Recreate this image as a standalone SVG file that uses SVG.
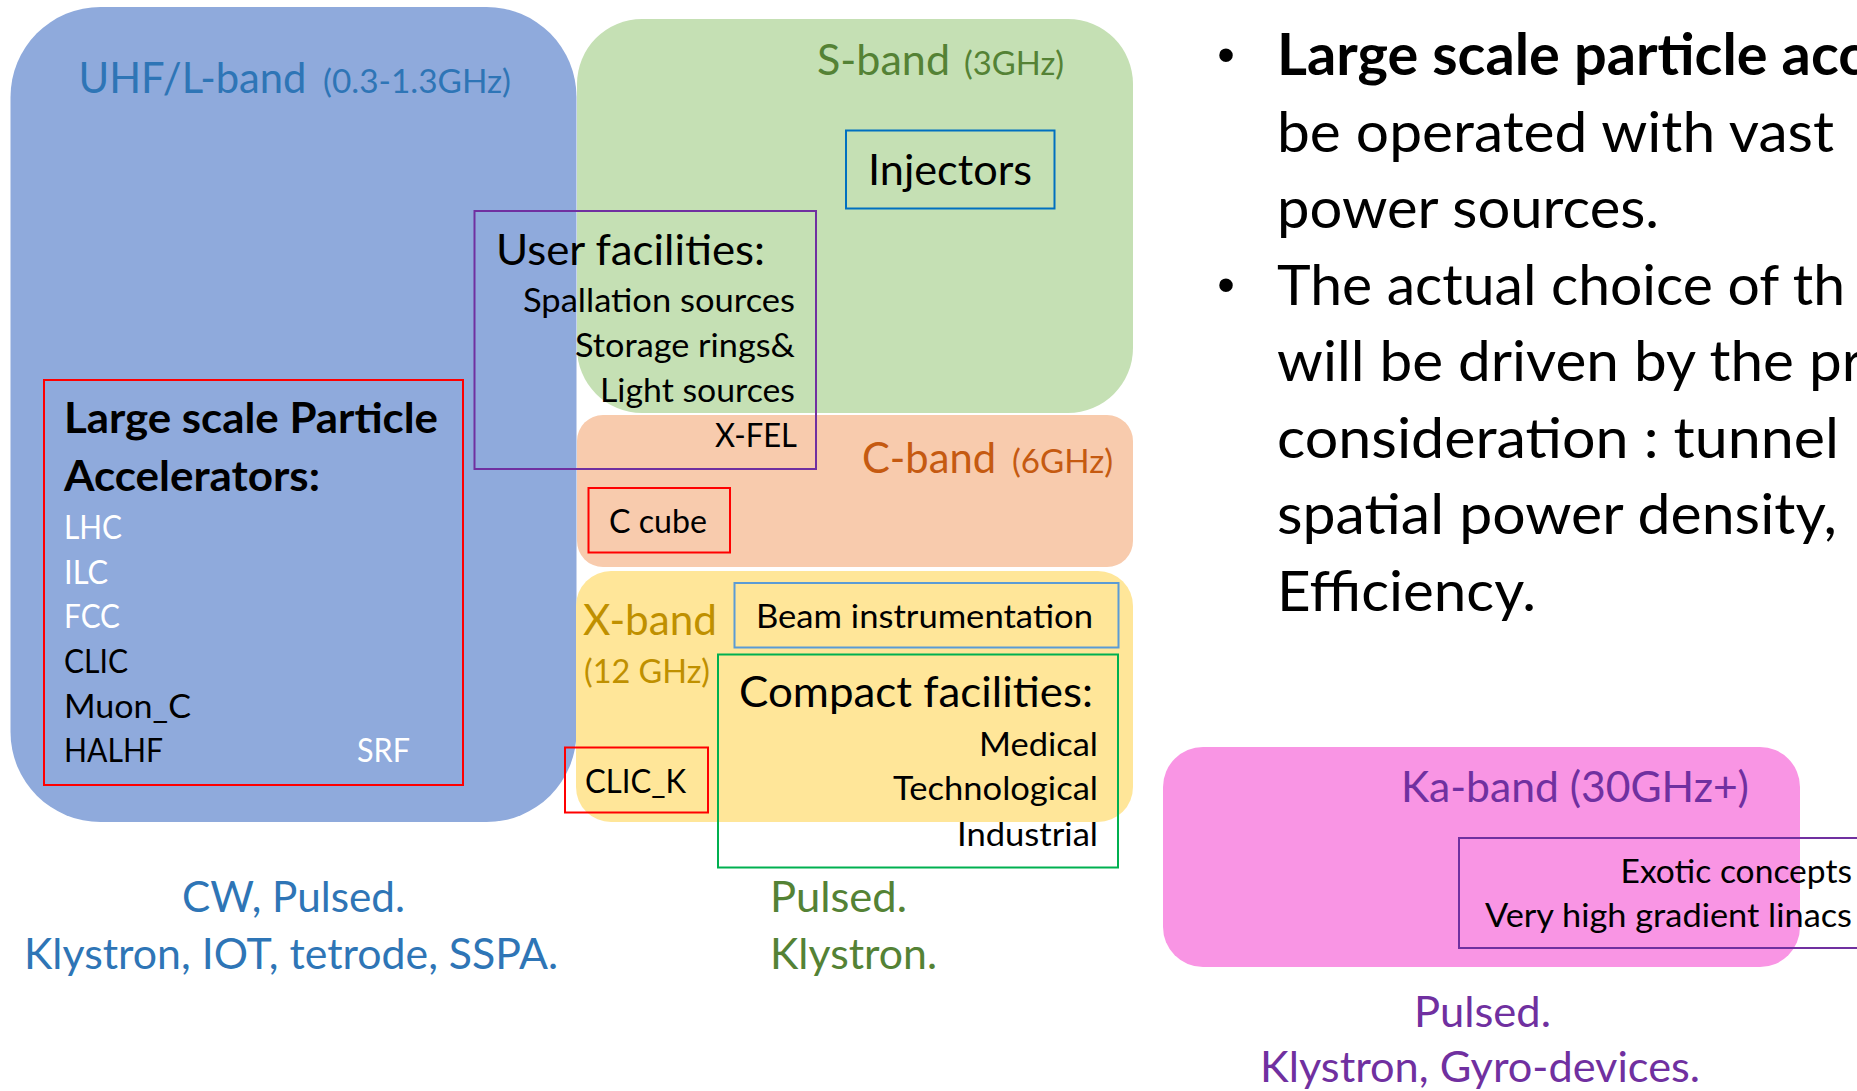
<svg xmlns="http://www.w3.org/2000/svg" width="1857" height="1091" viewBox="0 0 1857 1091">
  <style>
    text { font-family: Lato, "Open Sans", "Liberation Sans", sans-serif; }
    .big { font-size: 42.5px; }
    .small { font-size: 33.4px; }
    .bullet { font-size: 57px; }
    .bold { font-weight: bold; }
    .c-blue { fill: #2E75B6; }
    .c-green { fill: #548235; }
    .c-orange { fill: #C55A11; }
    .c-gold { fill: #BF9000; }
    .c-purple { fill: #7030A0; }
    .c-black { fill: #000000; }
    .c-white { fill: #FFFFFF; }
    .frame { fill: none; stroke-width: 2; }
  </style>

  <rect width="1857" height="1091" fill="#FFFFFF"/>

  <!-- frequency band areas -->
  <g id="band-uhf">
    <rect x="10.5" y="7" width="566" height="815" rx="90" ry="90" fill="#8FAADC"/>
    <text class="big c-blue" x="78.5" y="93" textLength="228" lengthAdjust="spacingAndGlyphs">UHF/L-band</text>
    <text class="small c-blue" x="323" y="93" textLength="188" lengthAdjust="spacingAndGlyphs">(0.3-1.3GHz)</text>
  </g>
  <g id="band-s">
    <rect x="577" y="19" width="556" height="394" rx="65" ry="65" fill="#C5E0B4"/>
    <text class="big c-green" x="817" y="75" textLength="133" lengthAdjust="spacingAndGlyphs">S-band</text>
    <text class="small c-green" x="964" y="75" textLength="100" lengthAdjust="spacingAndGlyphs">(3GHz)</text>
  </g>
  <g id="band-c">
    <rect x="577" y="415" width="556" height="152" rx="26" ry="26" fill="#F8CBAD"/>
    <text class="big c-orange" x="862" y="473" textLength="134" lengthAdjust="spacingAndGlyphs">C-band</text>
    <text class="small c-orange" x="1012" y="473" textLength="101" lengthAdjust="spacingAndGlyphs">(6GHz)</text>
  </g>
  <g id="band-x">
    <rect x="576" y="571" width="557" height="251" rx="35" ry="35" fill="#FFE699"/>
    <text class="big c-gold" x="583" y="635" textLength="134" lengthAdjust="spacingAndGlyphs">X-band</text>
    <text class="small c-gold" x="584" y="683" textLength="126" lengthAdjust="spacingAndGlyphs">(12 GHz)</text>
  </g>
  <g id="band-ka">
    <rect x="1163" y="747" width="637" height="220" rx="40" ry="40" fill="#F995E4"/>
    <text class="big c-purple" x="1401" y="802" textLength="348" lengthAdjust="spacingAndGlyphs">Ka-band (30GHz+)</text>
  </g>

  <!-- application boxes -->
  <g id="large-scale-accelerators">
    <rect class="frame" x="44" y="380" width="419" height="405" stroke="#FF0000"/>
    <text class="big bold c-black" x="64" y="433" textLength="374" lengthAdjust="spacingAndGlyphs">Large scale Particle</text>
    <text class="big bold c-black" x="64" y="491" textLength="256" lengthAdjust="spacingAndGlyphs">Accelerators:</text>
    <text class="small c-white" x="64" y="539" textLength="58" lengthAdjust="spacingAndGlyphs">LHC</text>
    <text class="small c-white" x="64" y="584" textLength="44" lengthAdjust="spacingAndGlyphs">ILC</text>
    <text class="small c-white" x="64" y="628" textLength="56" lengthAdjust="spacingAndGlyphs">FCC</text>
    <text class="small c-black" x="64" y="673" textLength="64" lengthAdjust="spacingAndGlyphs">CLIC</text>
    <text class="small c-black" x="64" y="718" textLength="127" lengthAdjust="spacingAndGlyphs">Muon_C</text>
    <text class="small c-black" x="64" y="762" textLength="99" lengthAdjust="spacingAndGlyphs">HALHF</text>
    <text class="small c-white" x="357" y="762" textLength="53" lengthAdjust="spacingAndGlyphs">SRF</text>
  </g>

  <g id="user-facilities">
    <rect class="frame" x="474.5" y="211" width="341.5" height="258" stroke="#7030A0"/>
    <text class="big c-black" x="496" y="265" textLength="269" lengthAdjust="spacingAndGlyphs">User facilities:</text>
    <text class="small c-black" x="523" y="312" textLength="272" lengthAdjust="spacingAndGlyphs">Spallation sources</text>
    <text class="small c-black" x="575" y="357" textLength="220" lengthAdjust="spacingAndGlyphs">Storage rings&amp;</text>
    <text class="small c-black" x="600" y="402" textLength="195" lengthAdjust="spacingAndGlyphs">Light sources</text>
    <text class="small c-black" x="715" y="447" textLength="82" lengthAdjust="spacingAndGlyphs">X-FEL</text>
  </g>

  <g id="injectors">
    <rect class="frame" x="846" y="130.5" width="208.5" height="78" stroke="#0070C0"/>
    <text class="big c-black" x="868" y="185" textLength="164" lengthAdjust="spacingAndGlyphs">Injectors</text>
  </g>

  <g id="c-cube">
    <rect class="frame" x="588.5" y="488" width="141.5" height="64.5" stroke="#FF0000"/>
    <text class="small c-black" x="609" y="533" textLength="98" lengthAdjust="spacingAndGlyphs">C cube</text>
  </g>

  <g id="beam-instrumentation">
    <rect class="frame" x="734.5" y="583" width="384" height="64.5" stroke="#5B9BD5"/>
    <text class="small c-black" x="756" y="628" textLength="337" lengthAdjust="spacingAndGlyphs">Beam instrumentation</text>
  </g>

  <g id="compact-facilities">
    <rect class="frame" x="718" y="654.5" width="400" height="213" stroke="#00B050"/>
    <text class="big c-black" x="739" y="707" textLength="354" lengthAdjust="spacingAndGlyphs">Compact facilities:</text>
    <text class="small c-black" x="979" y="756" textLength="119" lengthAdjust="spacingAndGlyphs">Medical</text>
    <text class="small c-black" x="893" y="800" textLength="205" lengthAdjust="spacingAndGlyphs">Technological</text>
    <text class="small c-black" x="957" y="846" textLength="141" lengthAdjust="spacingAndGlyphs">Industrial</text>
  </g>

  <g id="clic-k">
    <rect class="frame" x="565" y="747.5" width="143" height="65" stroke="#FF0000"/>
    <text class="small c-black" x="585" y="793" textLength="101" lengthAdjust="spacingAndGlyphs">CLIC_K</text>
  </g>

  <g id="exotic-concepts">
    <rect class="frame" x="1459" y="838" width="420" height="110" stroke="#7030A0"/>
    <text class="small c-black" x="1620.5" y="883" textLength="231.5" lengthAdjust="spacingAndGlyphs">Exotic concepts</text>
    <text class="small c-black" x="1485" y="927" textLength="367" lengthAdjust="spacingAndGlyphs">Very high gradient linacs</text>
  </g>

  <!-- power source notes under each band -->
  <g id="notes-uhf">
    <text class="big c-blue" x="182" y="912" textLength="223" lengthAdjust="spacingAndGlyphs">CW, Pulsed.</text>
    <text class="big c-blue" x="24" y="969" textLength="534" lengthAdjust="spacingAndGlyphs">Klystron, IOT, tetrode, SSPA.</text>
  </g>
  <g id="notes-s">
    <text class="big c-green" x="770" y="912" textLength="137" lengthAdjust="spacingAndGlyphs">Pulsed.</text>
    <text class="big c-green" x="770" y="969" textLength="167" lengthAdjust="spacingAndGlyphs">Klystron.</text>
  </g>
  <g id="notes-ka">
    <text class="big c-purple" x="1414" y="1027" textLength="137" lengthAdjust="spacingAndGlyphs">Pulsed.</text>
    <text class="big c-purple" x="1260" y="1082" textLength="440" lengthAdjust="spacingAndGlyphs">Klystron, Gyro-devices.</text>
  </g>

  <!-- bullet list -->
  <g id="bullet-list">
    <text class="c-black" x="1226" y="72" text-anchor="middle" style="font-family: 'Liberation Sans', sans-serif; font-size: 50px;">•</text>
    <text class="bullet bold c-black" x="1277" y="75" textLength="589" lengthAdjust="spacingAndGlyphs">Large scale particle acc</text>
    <text class="bullet c-black" x="1277" y="151.5" textLength="557" lengthAdjust="spacingAndGlyphs">be operated with vast</text>
    <text class="bullet c-black" x="1277" y="228" textLength="382" lengthAdjust="spacingAndGlyphs">power sources.</text>
    <text class="c-black" x="1226" y="301.5" text-anchor="middle" style="font-family: 'Liberation Sans', sans-serif; font-size: 50px;">•</text>
    <text class="bullet c-black" x="1277" y="304.5" textLength="568" lengthAdjust="spacingAndGlyphs">The actual choice of th</text>
    <text class="bullet c-black" x="1277" y="381" textLength="586" lengthAdjust="spacingAndGlyphs">will be driven by the pr</text>
    <text class="bullet c-black" x="1277" y="457.5" textLength="562" lengthAdjust="spacingAndGlyphs">consideration : tunnel</text>
    <text class="bullet c-black" x="1277" y="534" textLength="560" lengthAdjust="spacingAndGlyphs">spatial power density,</text>
    <text class="bullet c-black" x="1277" y="610.5" textLength="259" lengthAdjust="spacingAndGlyphs">Efficiency.</text>
  </g>

  <!-- connectors: none drawn in this figure -->
  <g id="connectors"/>
</svg>
